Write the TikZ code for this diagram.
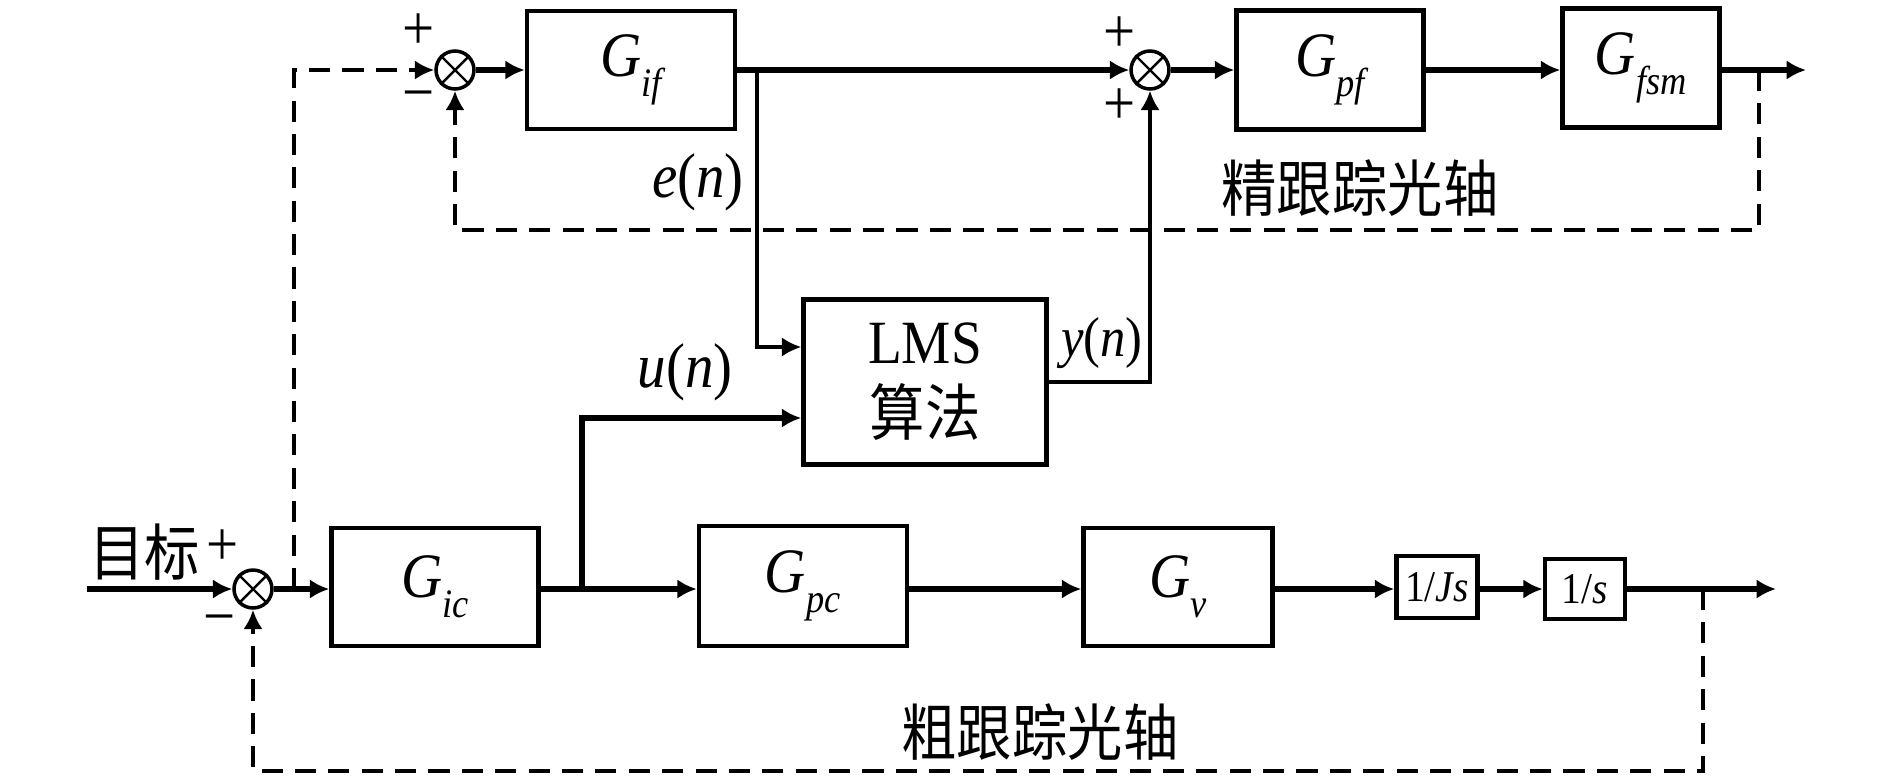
\documentclass[tikz,border=0pt]{standalone}
\usepackage{fontspec}
\setmainfont{Liberation Serif}[FakeStretch=0.9]
\newfontfamily\cjk{Noto Sans CJK SC}[FakeStretch=0.9]
\usetikzlibrary{arrows.meta,calc}
\newcommand\Gs[1]{\textit{G}\kern0.01em\raisebox{-0.32em}{\fontsize{23pt}{23pt}\selectfont\itshape #1}}
\begin{document}
\begin{tikzpicture}[x=0.02cm,y=-0.02cm,
  font=\fontsize{36pt}{40pt}\selectfont,
  blk/.style={draw,line width=2.6pt,inner sep=0pt},
  sumj/.style={draw,circle,line width=2pt,minimum size=0.76cm,inner sep=0pt},
  sig/.style={line width=3pt,-{Latex[length=11pt,width=11pt]}},
  thinsig/.style={line width=1.9pt,-{Latex[length=11pt,width=11pt]}},
  fb/.style={line width=2.7pt,dash pattern=on 12pt off 7pt,-{Latex[length=11pt,width=11pt]}},
  lbl/.style={inner sep=0pt},
  cn/.style={inner sep=0pt,font=\fontsize{35pt}{38pt}\selectfont\cjk}]
\useasboundingbox (0,0) rectangle (1890,782);

% top row
\node[sumj] (j1) at (455,70) {};
\node[blk,minimum width=4.16cm,minimum height=2.36cm] (gif) at (631,70) {\Gs{if}};
\node[sumj] (j2) at (1150,70) {};
\node[blk,minimum width=3.74cm,minimum height=2.38cm] (gpf) at (1330,70) {\Gs{pf}};
\node[blk,minimum width=3.14cm,minimum height=2.38cm] (gfsm) at (1641,68) {\Gs{fsm}};
\coordinate (out1) at (1806,70);
\coordinate (fb1) at (1759,70);

% LMS
\node[blk,minimum width=4.86cm,minimum height=3.3cm,align=center,
      font=\fontsize{35pt}{41pt}\selectfont] (lms) at (925,382) {LMS\\{\cjk 算法}};

% bottom row
\node[sumj] (j3) at (253,589) {};
\node[blk,minimum width=4.14cm,minimum height=2.36cm] (gic) at (435,587) {\Gs{ic}};
\node[blk,minimum width=4.16cm,minimum height=2.4cm] (gpc) at (803,586) {\Gs{pc}};
\node[blk,minimum width=3.78cm,minimum height=2.36cm] (gv) at (1178,587) {\Gs{v}};
\node[blk,minimum width=1.62cm,minimum height=1.24cm,font=\fontsize{25pt}{27pt}\selectfont] (js) at (1437,587) {1/\textit{Js}};
\node[blk,minimum width=1.6cm,minimum height=1.2cm,font=\fontsize{25pt}{27pt}\selectfont] (s1) at (1585,589) {1/\textit{s}};
\coordinate (in) at (87,589);
\coordinate (out2) at (1776,589);
\coordinate (fb2) at (1703,589);
\coordinate (db) at (294,589);
\coordinate (eb) at (757,70);
\coordinate (ub) at (582,589);

% crosses in junctions
\foreach \j in {j1,j2,j3}
  \draw[line width=1.4pt] (\j.north west) -- (\j.south east) (\j.north east) -- (\j.south west);

% top connectors
\draw[sig] (j1) -- (gif);
\draw[sig] (gif.east) -- (j2.west);
\draw[sig] (j2) -- (gpf);
\draw[sig] (gpf.east) -- (gfsm.west |- gpf.east);
\draw[sig] (gfsm.east |- out1) -- (out1);
\draw[fb] (fb1) -- ++(0,160) -| (j1.south);

% LMS connectors
\draw[thinsig] (eb) |- ($(lms.west)+(0,-35)$);
\draw[sig] (ub) |- ($(lms.west)+(0,36)$);
\draw[thinsig] (lms.east) -| (j2.south);

% bottom connectors
\draw[sig] (in) -- (j3);
\draw[sig] (j3) -- (gic.west |- j3);
\draw[sig] (gic.east |- j3) -- (gpc.west |- j3);
\draw[sig] (gpc.east |- j3) -- (gv.west |- j3);
\draw[sig] (gv.east |- j3) -- (js.west |- j3);
\draw[sig] (js.east |- j3) -- (s1.west);
\draw[sig] (s1.east) -- (out2);
\draw[fb] (fb2) -- ++(0,182) -| (j3.south);
\draw[fb] (db) |- (j1.west);

% labels
\node[lbl] (p1) at (419,32) {+};
\node[lbl] (m1) at (419,102) {−};
\node[lbl] (p2) at (1120,35) {+};
\node[lbl] (p3) at (1120,107) {+};
\node[cn] (tgt) at (145,552) {目标};
\node[lbl] (p4) at (223,548) {+};
\node[lbl] (m3) at (220,626) {−};
\node[lbl] (en) at (698,182) {\textit{e}(\textit{n})};
\node[lbl] (un) at (685,372) {\textit{u}(\textit{n})};
\node[lbl,font=\fontsize{32pt}{36pt}\selectfont] (yn) at (1102,343) {\textit{y}(\textit{n})};
\node[cn] (fine) at (1360,188) {精跟踪光轴};
\node[cn] (coarse) at (1040,732) {粗跟踪光轴};
\end{tikzpicture}
\end{document}
